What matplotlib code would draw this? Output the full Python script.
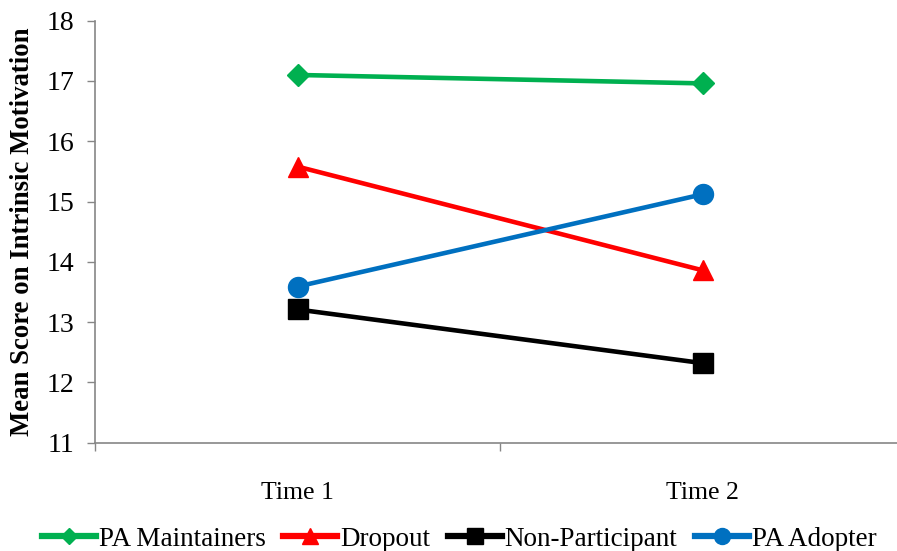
import matplotlib
matplotlib.use("Agg")
import matplotlib.pyplot as plt

categories = ["Time 1", "Time 2"]
pa_maintainers = [17.10, 16.96]
dropout = [15.58, 13.86]
non_participant = [13.21, 12.32]
pa_adopter = [13.59, 15.12]
y_ticks = [11, 12, 13, 14, 15, 16, 17, 18]

plt.rcParams['font.family'] = ['Liberation Serif', 'DejaVu Serif']

W, H = 897, 551
fig = plt.figure(figsize=(W / 100, H / 100), dpi=100)
left, right = 95 / W, 905 / W
top, bottom = 20.7 / H, 442.7 / H
ax = fig.add_axes([left, 1 - bottom, right - left, bottom - top])

x = list(range(len(categories)))
series = [
    ("PA Maintainers", pa_maintainers, "#00B050", "D", 10.7),
    ("Dropout", dropout, "#FF0000", "^", 15),
    ("Non-Participant", non_participant, "#000000", "s", 13.7),
    ("PA Adopter", pa_adopter, "#0070C0", "o", 14.4),
]
for name, vals, col, mk, ms in series:
    ax.plot(x, vals, color=col, lw=3.3, marker=mk, markersize=ms,
            markerfacecolor=col, markeredgecolor=col, label=name, clip_on=False)

ax.set_xlim(-0.5, 1.5)
ax.set_ylim(11, 18)
ax.set_yticks(y_ticks)
ax.set_yticklabels([str(t) for t in y_ticks])
ax.set_xticks(x)
ax.set_xticklabels(categories)
ax.set_xticks([-0.5, 0.5, 1.5], minor=True)
ax.tick_params(axis='x', which='major', length=0, pad=28, labelsize=18.5)
ax.tick_params(axis='x', which='minor', length=6, direction='out', color='#868686', width=1)
ax.tick_params(axis='y', length=6, direction='out', color='#868686', width=1, labelsize=20, pad=9)
for s in ['top', 'right']:
    ax.spines[s].set_visible(False)
for s in ['left', 'bottom']:
    ax.spines[s].set_color('#868686')
    ax.spines[s].set_linewidth(1.2)

ax.set_ylabel("Mean Score on Intrinsic Motivation", fontsize=19.3, fontweight='bold', labelpad=8)

handles, labels = ax.get_legend_handles_labels()
leg = fig.legend(handles, labels, loc='center', bbox_to_anchor=(459 / W, 1 - 539 / H),
                 ncol=4, frameon=False, fontsize=19.5, handlelength=2.0, handletextpad=0.1,
                 columnspacing=0.65, markerscale=0.8)
for line in leg.get_lines():
    line.set_linewidth(4.5)

fig.savefig("out.png", dpi=100)
